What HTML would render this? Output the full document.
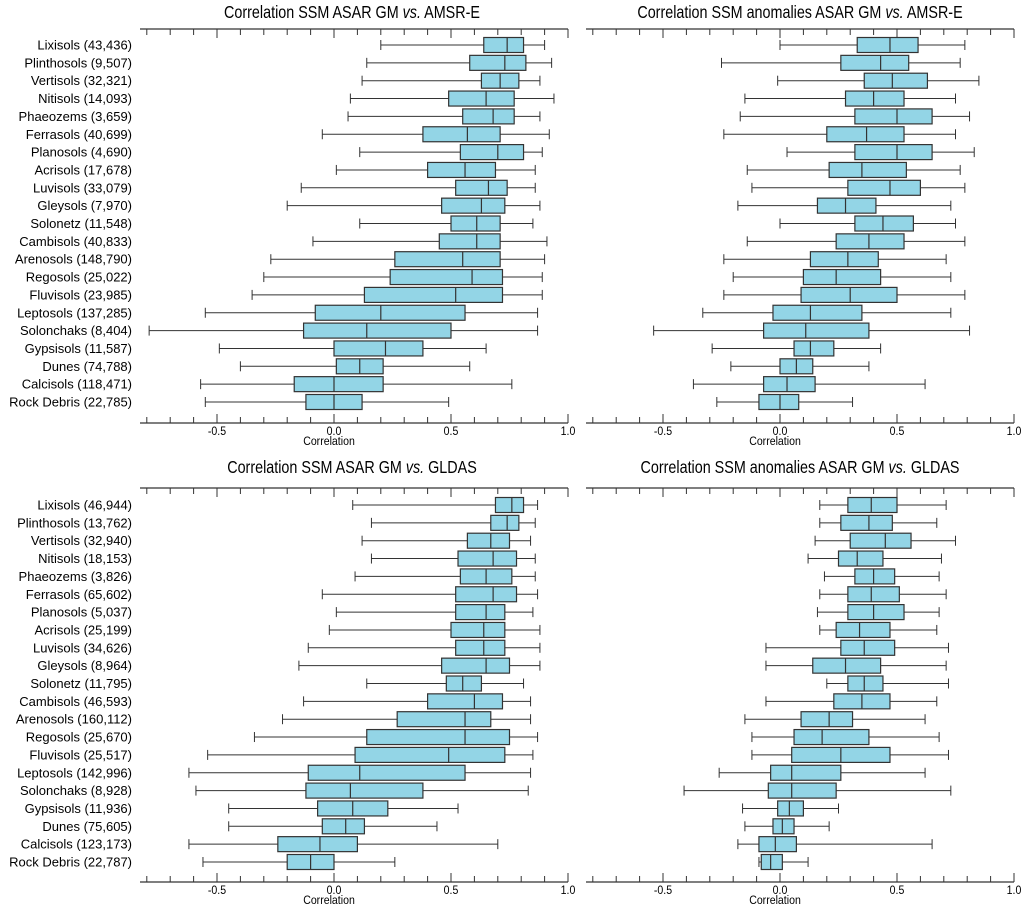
<!DOCTYPE html>
<html><head><meta charset="utf-8"><style>
html,body{margin:0;padding:0;background:#fff;}
svg{display:block;font-family:"Liberation Sans",sans-serif;}
</style></head><body>
<svg id="chart" width="1024" height="907" viewBox="0 0 1024 907"></svg>
<script>
const soilsTop = ["Lixisols (43,436)","Plinthosols (9,507)","Vertisols (32,321)","Nitisols (14,093)","Phaeozems (3,659)","Ferrasols (40,699)","Planosols (4,690)","Acrisols (17,678)","Luvisols (33,079)","Gleysols (7,970)","Solonetz (11,548)","Cambisols (40,833)","Arenosols (148,790)","Regosols (25,022)","Fluvisols (23,985)","Leptosols (137,285)","Solonchaks (8,404)","Gypsisols (11,587)","Dunes (74,788)","Calcisols (118,471)","Rock Debris (22,785)"];
const soilsBottom = ["Lixisols (46,944)","Plinthosols (13,762)","Vertisols (32,940)","Nitisols (18,153)","Phaeozems (3,826)","Ferrasols (65,602)","Planosols (5,037)","Acrisols (25,199)","Luvisols (34,626)","Gleysols (8,964)","Solonetz (11,795)","Cambisols (46,593)","Arenosols (160,112)","Regosols (25,670)","Fluvisols (25,517)","Leptosols (142,996)","Solonchaks (8,928)","Gypsisols (11,936)","Dunes (75,605)","Calcisols (123,173)","Rock Debris (22,787)"];
// [whisker low, q1, median, q3, whisker high]
const amsrStats = [[0.20,0.64,0.74,0.81,0.90],[0.14,0.58,0.73,0.82,0.93],[0.12,0.63,0.71,0.79,0.88],[0.07,0.49,0.65,0.77,0.94],[0.06,0.55,0.68,0.77,0.88],[-0.05,0.38,0.57,0.71,0.92],[0.11,0.54,0.70,0.81,0.89],[0.01,0.40,0.56,0.69,0.86],[-0.14,0.52,0.66,0.74,0.86],[-0.20,0.46,0.63,0.73,0.88],[0.11,0.50,0.61,0.71,0.85],[-0.09,0.45,0.61,0.71,0.91],[-0.27,0.26,0.55,0.71,0.90],[-0.30,0.24,0.59,0.72,0.89],[-0.35,0.13,0.52,0.72,0.89],[-0.55,-0.08,0.20,0.56,0.87],[-0.79,-0.13,0.14,0.50,0.87],[-0.49,0.0,0.22,0.38,0.65],[-0.40,0.01,0.11,0.21,0.58],[-0.57,-0.17,0.0,0.21,0.76],[-0.55,-0.12,0.0,0.12,0.49]];
const amsrAnomStats = [[0.0,0.33,0.47,0.59,0.79],[-0.25,0.26,0.43,0.55,0.77],[-0.01,0.36,0.48,0.63,0.85],[-0.15,0.28,0.40,0.53,0.75],[-0.17,0.32,0.50,0.65,0.81],[-0.24,0.20,0.37,0.53,0.75],[0.03,0.32,0.50,0.65,0.83],[-0.14,0.21,0.35,0.54,0.77],[-0.12,0.29,0.47,0.60,0.79],[-0.18,0.16,0.28,0.41,0.73],[0.0,0.32,0.44,0.57,0.75],[-0.14,0.24,0.38,0.53,0.79],[-0.24,0.13,0.29,0.42,0.71],[-0.20,0.10,0.24,0.43,0.73],[-0.24,0.09,0.30,0.50,0.79],[-0.33,-0.03,0.13,0.35,0.73],[-0.54,-0.07,0.11,0.38,0.81],[-0.29,0.06,0.13,0.23,0.43],[-0.21,0.00,0.07,0.14,0.38],[-0.37,-0.07,0.03,0.15,0.62],[-0.27,-0.09,0.0,0.08,0.31]];
const gldasStats = [[0.08,0.69,0.76,0.81,0.87],[0.16,0.67,0.74,0.79,0.86],[0.12,0.57,0.67,0.75,0.84],[0.16,0.53,0.68,0.78,0.86],[0.09,0.54,0.65,0.76,0.86],[-0.05,0.52,0.68,0.78,0.87],[0.01,0.52,0.65,0.73,0.85],[-0.02,0.50,0.64,0.73,0.88],[-0.11,0.52,0.64,0.73,0.88],[-0.15,0.46,0.65,0.75,0.88],[0.14,0.48,0.55,0.63,0.81],[-0.13,0.40,0.60,0.72,0.84],[-0.22,0.27,0.56,0.67,0.84],[-0.34,0.14,0.56,0.75,0.87],[-0.54,0.09,0.49,0.73,0.85],[-0.62,-0.11,0.11,0.56,0.84],[-0.59,-0.12,0.07,0.38,0.83],[-0.45,-0.07,0.08,0.23,0.53],[-0.45,-0.05,0.05,0.13,0.44],[-0.62,-0.24,-0.06,0.10,0.70],[-0.56,-0.20,-0.10,0.0,0.26]];
const gldasAnomStats = [[0.17,0.29,0.39,0.50,0.71],[0.17,0.26,0.38,0.48,0.67],[0.15,0.30,0.45,0.56,0.75],[0.12,0.25,0.33,0.44,0.69],[0.19,0.32,0.40,0.49,0.68],[0.17,0.29,0.39,0.51,0.71],[0.16,0.29,0.40,0.53,0.68],[0.17,0.24,0.34,0.47,0.67],[-0.06,0.26,0.36,0.49,0.72],[-0.06,0.14,0.28,0.43,0.71],[0.20,0.29,0.36,0.44,0.72],[-0.06,0.23,0.35,0.47,0.67],[-0.15,0.09,0.21,0.31,0.62],[-0.12,0.06,0.18,0.38,0.68],[-0.12,0.05,0.26,0.47,0.72],[-0.26,-0.04,0.05,0.26,0.62],[-0.41,-0.05,0.05,0.24,0.73],[-0.16,-0.01,0.04,0.10,0.25],[-0.15,-0.03,0.01,0.06,0.21],[-0.18,-0.09,-0.02,0.07,0.65],[-0.09,-0.08,-0.04,0.01,0.12]];
const tickLabels = ["-0.5","0.0","0.5","1.0"];
const tickValues = [-0.5,0,0.5,1.0];

const NS="http://www.w3.org/2000/svg";
const svg=document.getElementById('chart');
function mk(tag,attrs,parent){const e=document.createElementNS(NS,tag);for(const k in attrs)e.setAttribute(k,attrs[k]);(parent||svg).appendChild(e);return e;}

const panels=[
 {title:"AMSR-E",anom:false,stats:amsrStats,labels:soilsTop,zero:334,left:140,right:568,titleX:352,titleY:18,axTop:29,row0:45,axBot:423,name:"amsr-panel"},
 {title:"AMSR-E",anom:true,stats:amsrAnomStats,labels:null,zero:780,left:586,right:1014,titleX:800,titleY:18,axTop:29,row0:45,axBot:423,name:"amsr-anomaly-panel"},
 {title:"GLDAS",anom:false,stats:gldasStats,labels:soilsBottom,zero:334,left:140,right:568,titleX:352,titleY:473,axTop:488,row0:505,axBot:882,name:"gldas-panel"},
 {title:"GLDAS",anom:true,stats:gldasAnomStats,labels:null,zero:780,left:586,right:1014,titleX:800,titleY:473,axTop:488,row0:505,axBot:882,name:"gldas-anomaly-panel"}
];
const SCALE=234, ROW=17.85, BH=15;

panels.forEach(p=>{
 const g=mk('g',{});
 
 
 const xs=v=>p.zero+v*SCALE;
 const ys=i=>p.row0+i*ROW;
 const t=mk('text',{x:0,y:0,'text-anchor':'middle','font-size':'17.5',fill:'#000',transform:'translate('+p.titleX+','+p.titleY+') scale(0.82,1)'},g);
 
 
 t.innerHTML='Correlation SSM '+(p.anom?'anomalies ':'')+'ASAR GM <tspan font-style="italic">vs.</tspan> '+p.title;
 const top=mk('line',{x1:p.left,x2:p.right,y1:p.axTop,y2:p.axTop,stroke:'#333','stroke-width':1.3},g);
 
 
 const bot=mk('line',{x1:p.left,x2:p.right,y1:p.axBot,y2:p.axBot,stroke:'#333','stroke-width':1.3},g);
 
 
 for(let k=-8;k<=10;k++){
  const v=k/10, x=xs(v), major=(k%5===0);
  const L=major?9:6;
  mk('line',{x1:x,x2:x,y1:p.axTop,y2:p.axTop+L,stroke:'#333','stroke-width':1},g);
  mk('line',{x1:x,x2:x,y1:p.axBot,y2:p.axBot-L,stroke:'#333','stroke-width':1},g);
 }
 tickValues.forEach((v,i)=>{
  const tl=mk('text',{x:0,y:0,'text-anchor':'middle','font-size':'12',fill:'#000',transform:'translate('+xs(v)+','+(p.axBot+12)+') scale(0.88,1)'},g);
  
  
  tl.textContent=tickLabels[i];
 });
 const xt=mk('text',{x:0,y:0,'text-anchor':'middle','font-size':'12',fill:'#000',transform:'translate('+(xs(0)-5)+','+(p.axBot+22)+') scale(0.88,1)'},g);
 
 
 xt.textContent='Correlation';
 p.stats.forEach((s,i)=>{
  const y=ys(i);
  const bg=mk('g',{},g);
  
  
  mk('line',{x1:xs(s[0]),x2:xs(s[1]),y1:y,y2:y,stroke:'#333','stroke-width':1},bg);
  mk('line',{x1:xs(s[3]),x2:xs(s[4]),y1:y,y2:y,stroke:'#333','stroke-width':1},bg);
  mk('line',{x1:xs(s[0]),x2:xs(s[0]),y1:y-5,y2:y+5,stroke:'#333','stroke-width':1},bg);
  mk('line',{x1:xs(s[4]),x2:xs(s[4]),y1:y-5,y2:y+5,stroke:'#333','stroke-width':1},bg);
  mk('rect',{x:xs(s[1]),y:y-BH/2,width:xs(s[3])-xs(s[1]),height:BH,fill:'#93d5e6',stroke:'#333','stroke-width':1.2},bg);
  mk('line',{x1:xs(s[2]),x2:xs(s[2]),y1:y-BH/2,y2:y+BH/2,stroke:'#333','stroke-width':1.2},bg);
  if(p.labels){
   const lb=mk('text',{x:132,y:y+4.5,'text-anchor':'end','font-size':'13',fill:'#000'},g);
   
   
   lb.textContent=p.labels[i];
  }
 });
});
</script>
</body></html>
